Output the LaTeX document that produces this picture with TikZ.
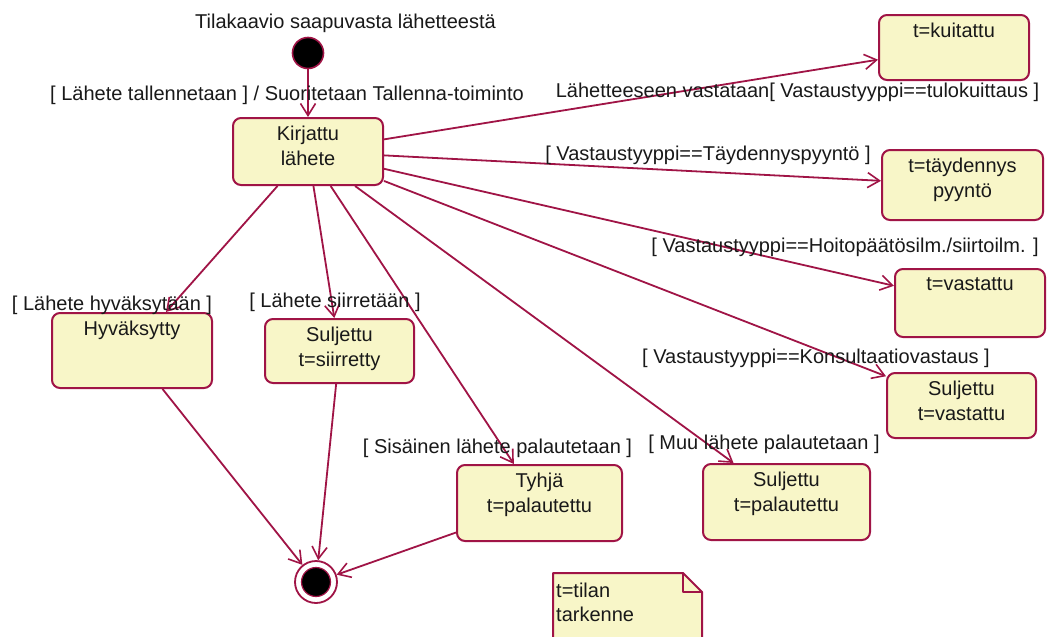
\documentclass[tikz,border=0pt]{standalone}
\usepackage{fontspec}
\setmainfont{Liberation Sans}
\usetikzlibrary{arrows.meta,calc}
\definecolor{crim}{RGB}{160,20,70}
\definecolor{statefill}{RGB}{248,246,200}
\definecolor{ink}{RGB}{25,25,25}

\begin{document}
\begin{tikzpicture}[x=1pt,y=-1pt,
  every node/.style={font=\fontsize{20}{24.5}\selectfont, text=ink},
  state/.style={draw=crim, fill=statefill, line width=2pt, rounded corners=8pt, inner sep=0pt},
  boxtext/.style={anchor=north, inner sep=0pt, align=center},
  guard/.style={anchor=base, inner sep=0pt},
  trans/.style={draw=crim, line width=1.8pt, line join=miter,
    -{Straight Barb[length=12pt,width=15pt,line width=1.6pt]}},
  notebox/.style={draw=crim, fill=statefill, line width=2pt, line join=round}
]
\fill[white] (0,0) rectangle (1047,637);
\useasboundingbox (0,0) rectangle (1047,637);

% title
\node[guard] (title) at (345.5,28) {Tilakaavio saapuvasta lähetteestä};

% pseudo states
\node[circle, draw=crim, fill=black, line width=1.6pt, minimum size=31pt, inner sep=0pt] (init) at (308,53) {};
\node[circle, draw=crim, line width=1.8pt, minimum size=42pt, inner sep=0pt] (fin) at (316,582) {};
\node[circle, draw=crim, fill=black, line width=1.2pt, minimum size=29pt, inner sep=0pt] (fin-core) at (fin.center) {};

% states
\node[state, minimum width=150pt, minimum height=67pt] (kirj) at (308,151.5) {};
\node[boxtext] (kirj-t) at ([yshift=-9.3pt]kirj.north) {Kirjattu\\lähete};

\node[state, minimum width=150pt, minimum height=65pt] (kuit) at (954,47.5) {};
\node[boxtext] (kuit-t) at ([yshift=-9.3pt]kuit.north) {t=kuitattu};

\node[state, minimum width=161pt, minimum height=70pt] (tayd) at (962.5,185) {};
\node[boxtext] (tayd-t) at ([yshift=-9.3pt]tayd.north) {t=täydennys\\pyyntö};

\node[state, minimum width=150pt, minimum height=68pt] (vast) at (970,303) {};
\node[boxtext] (vast-t) at ([yshift=-9.3pt]vast.north) {t=vastattu};

\node[state, minimum width=149pt, minimum height=65pt] (sulv) at (961.5,405.5) {};
\node[boxtext] (sulv-t) at ([yshift=-9.3pt]sulv.north) {Suljettu\\t=vastattu};

\node[state, minimum width=160pt, minimum height=75pt] (hyv) at (132,350.5) {};
\node[boxtext] (hyv-t) at ([yshift=-9.3pt]hyv.north) {Hyväksytty};

\node[state, minimum width=149pt, minimum height=64pt] (siir) at (339.5,351) {};
\node[boxtext] (siir-t) at ([yshift=-9.3pt]siir.north) {Suljettu\\t=siirretty};

\node[state, minimum width=165pt, minimum height=76pt] (tyhja) at (539.5,503) {};
\node[boxtext] (tyhja-t) at ([yshift=-9.3pt]tyhja.north) {Tyhjä\\t=palautettu};

\node[state, minimum width=167pt, minimum height=76pt] (sulp) at (786.5,502) {};
\node[boxtext] (sulp-t) at ([yshift=-9.3pt]sulp.north) {Suljettu\\t=palautettu};

% transitions
\draw[trans] (init) -- (kirj);
\draw[trans] (kirj) -- (kuit);
\draw[trans] (kirj) -- (tayd);
\draw[trans] (kirj) -- (vast);
\draw[trans] (kirj) -- (sulv);
\draw[trans] (kirj) -- (hyv);
\draw[trans] (kirj) -- (siir);
\draw[trans] (kirj) -- (tyhja);
\draw[trans] (kirj) -- (sulp);
\draw[trans] (hyv) -- (fin);
\draw[trans] (siir) -- (fin);
\draw[trans] (tyhja) -- (fin);

% guards and actions
\node[guard] (g-tall) at (287,100) {[ Lähete tallennetaan ] / Suoritetaan Tallenna-toiminto};
\node[guard] (g-kuit) at (797.5,97) {Lähetteeseen vastataan[ Vastaustyyppi==tulokuittaus ]};
\node[guard] (g-tayd) at (708,160) {[ Vastaustyyppi==Täydennyspyyntö ]};
\node[guard] (g-hoito) at (845,252) {[ Vastaustyyppi==Hoitopäätösilm./siirtoilm. ]};
\node[guard] (g-kons) at (816,363) {[ Vastaustyyppi==Konsultaatiovastaus ]};
\node[guard] (g-hyv) at (112,310) {[ Lähete hyväksytään ]};
\node[guard] (g-siir) at (335,307) {[ Lähete siirretään ]};
\node[guard] (g-sis) at (497.5,453) {[ Sisäinen lähete palautetaan ]};
\node[guard] (g-muu) at (764,449) {[ Muu lähete palautetaan ]};

% note with folded corner
\draw[notebox] (553,573) -- (683,573) -- (702,592) -- (702,645) -- (553,645) -- cycle;
\draw[notebox, fill=none] (683,573) -- (683,592) -- (702,592);
\node[anchor=north west, inner sep=0pt, align=left] (note-t) at (556,582.7) {t=tilan\\tarkenne};
\end{tikzpicture}
\end{document}
